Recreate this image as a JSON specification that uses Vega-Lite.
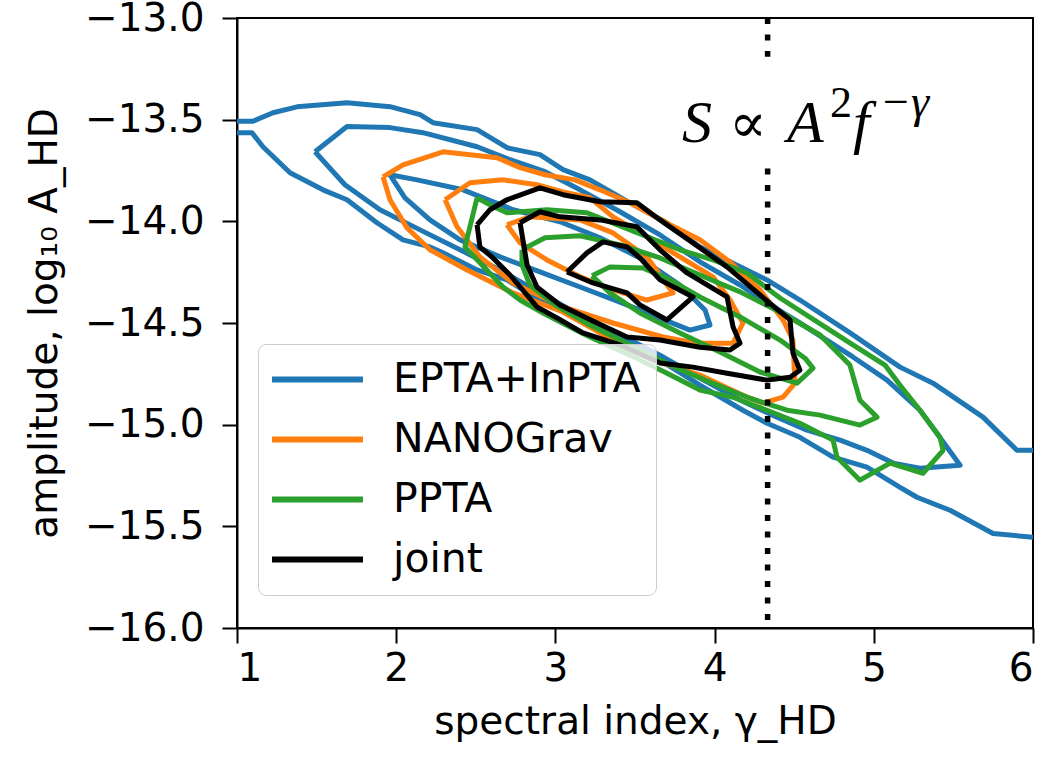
{
  "$schema": "https://vega.github.io/schema/vega-lite/v6.json",
  "width": 796,
  "height": 610,
  "autosize": {"type": "none"},
  "padding": {"left": 237, "top": 18, "right": 16, "bottom": 135},
  "background": "white",
  "config": {
    "view": {"stroke": "black", "strokeWidth": 2},
    "axis": {"grid": false, "domainColor": "black", "domainWidth": 2, "tickColor": "black", "tickWidth": 2, "tickSize": 15, "labelFont": "DejaVu Sans", "labelFontSize": 39, "labelColor": "black", "titleFont": "DejaVu Sans", "titleFontSize": 39, "titleFontWeight": "normal", "titleColor": "black"}
  },
  "encoding": {
    "x": {"field": "gamma", "type": "quantitative", "scale": {"domain": [1, 6], "nice": false, "zero": false}, "axis": {"values": [1, 2, 3, 4, 5, 6], "format": "d", "title": "spectral index, γ_HD", "labelPadding": 6, "titlePadding": 14}},
    "y": {"field": "logA", "type": "quantitative", "scale": {"domain": [-16, -13], "nice": false, "zero": false}, "axis": {"values": [-16, -15.5, -15, -14.5, -14, -13.5, -13], "format": ".1f", "title": "amplitude, log₁₀ A_HD", "labelPadding": 18, "titlePadding": 20}}
  },
  "layer": [
    {
      "data": {"values": [
        {"set":"EPTA+InPTA","id":"B1u","gamma":1.0,"logA":-13.508},{"set":"EPTA+InPTA","id":"B1u","gamma":1.10,"logA":-13.508},{"set":"EPTA+InPTA","id":"B1u","gamma":1.226,"logA":-13.466},{"set":"EPTA+InPTA","id":"B1u","gamma":1.377,"logA":-13.437},{"set":"EPTA+InPTA","id":"B1u","gamma":1.691,"logA":-13.417},{"set":"EPTA+InPTA","id":"B1u","gamma":1.961,"logA":-13.436},{"set":"EPTA+InPTA","id":"B1u","gamma":2.150,"logA":-13.475},{"set":"EPTA+InPTA","id":"B1u","gamma":2.231,"logA":-13.515},{"set":"EPTA+InPTA","id":"B1u","gamma":2.508,"logA":-13.549},{"set":"EPTA+InPTA","id":"B1u","gamma":2.696,"logA":-13.638},{"set":"EPTA+InPTA","id":"B1u","gamma":2.903,"logA":-13.672},{"set":"EPTA+InPTA","id":"B1u","gamma":3.048,"logA":-13.746},{"set":"EPTA+InPTA","id":"B1u","gamma":3.217,"logA":-13.796},{"set":"EPTA+InPTA","id":"B1u","gamma":3.469,"logA":-13.909},{"set":"EPTA+InPTA","id":"B1u","gamma":3.688,"logA":-14.002},{"set":"EPTA+InPTA","id":"B1u","gamma":3.908,"logA":-14.126},{"set":"EPTA+InPTA","id":"B1u","gamma":4.329,"logA":-14.288},{"set":"EPTA+InPTA","id":"B1u","gamma":4.536,"logA":-14.387},{"set":"EPTA+InPTA","id":"B1u","gamma":4.851,"logA":-14.549},{"set":"EPTA+InPTA","id":"B1u","gamma":5.165,"logA":-14.717},{"set":"EPTA+InPTA","id":"B1u","gamma":5.372,"logA":-14.796},{"set":"EPTA+InPTA","id":"B1u","gamma":5.686,"logA":-14.963},{"set":"EPTA+InPTA","id":"B1u","gamma":5.899,"logA":-15.126},{"set":"EPTA+InPTA","id":"B1u","gamma":6.0,"logA":-15.126},
        {"set":"EPTA+InPTA","id":"B1l","gamma":1.0,"logA":-13.564},{"set":"EPTA+InPTA","id":"B1l","gamma":1.094,"logA":-13.564},{"set":"EPTA+InPTA","id":"B1l","gamma":1.163,"logA":-13.633},{"set":"EPTA+InPTA","id":"B1l","gamma":1.333,"logA":-13.761},{"set":"EPTA+InPTA","id":"B1l","gamma":1.540,"logA":-13.845},{"set":"EPTA+InPTA","id":"B1l","gamma":1.691,"logA":-13.894},{"set":"EPTA+InPTA","id":"B1l","gamma":1.879,"logA":-14.007},{"set":"EPTA+InPTA","id":"B1l","gamma":2.043,"logA":-14.091},{"set":"EPTA+InPTA","id":"B1l","gamma":2.212,"logA":-14.126},{"set":"EPTA+InPTA","id":"B1l","gamma":2.294,"logA":-14.155},{"set":"EPTA+InPTA","id":"B1l","gamma":2.508,"logA":-14.239},{"set":"EPTA+InPTA","id":"B1l","gamma":2.696,"logA":-14.288},{"set":"EPTA+InPTA","id":"B1l","gamma":2.903,"logA":-14.387},{"set":"EPTA+InPTA","id":"B1l","gamma":3.155,"logA":-14.485},{"set":"EPTA+InPTA","id":"B1l","gamma":3.406,"logA":-14.584},{"set":"EPTA+InPTA","id":"B1l","gamma":3.657,"logA":-14.683},{"set":"EPTA+InPTA","id":"B1l","gamma":3.908,"logA":-14.806},{"set":"EPTA+InPTA","id":"B1l","gamma":4.178,"logA":-14.929},{"set":"EPTA+InPTA","id":"B1l","gamma":4.329,"logA":-14.993},{"set":"EPTA+InPTA","id":"B1l","gamma":4.536,"logA":-15.062},{"set":"EPTA+InPTA","id":"B1l","gamma":4.744,"logA":-15.160},{"set":"EPTA+InPTA","id":"B1l","gamma":4.957,"logA":-15.209},{"set":"EPTA+InPTA","id":"B1l","gamma":5.165,"logA":-15.308},{"set":"EPTA+InPTA","id":"B1l","gamma":5.271,"logA":-15.357},{"set":"EPTA+InPTA","id":"B1l","gamma":5.479,"logA":-15.421},{"set":"EPTA+InPTA","id":"B1l","gamma":5.749,"logA":-15.535},{"set":"EPTA+InPTA","id":"B1l","gamma":6.0,"logA":-15.554},
        {"set":"EPTA+InPTA","id":"B2","gamma":1.490,"logA":-13.658},{"set":"EPTA+InPTA","id":"B2","gamma":1.691,"logA":-13.534},{"set":"EPTA+InPTA","id":"B2","gamma":1.961,"logA":-13.539},{"set":"EPTA+InPTA","id":"B2","gamma":2.168,"logA":-13.564},{"set":"EPTA+InPTA","id":"B2","gamma":2.508,"logA":-13.633},{"set":"EPTA+InPTA","id":"B2","gamma":2.715,"logA":-13.697},{"set":"EPTA+InPTA","id":"B2","gamma":2.935,"logA":-13.756},{"set":"EPTA+InPTA","id":"B2","gamma":3.155,"logA":-13.845},{"set":"EPTA+InPTA","id":"B2","gamma":3.406,"logA":-13.953},{"set":"EPTA+InPTA","id":"B2","gamma":3.657,"logA":-14.067},{"set":"EPTA+InPTA","id":"B2","gamma":3.908,"logA":-14.199},{"set":"EPTA+InPTA","id":"B2","gamma":4.160,"logA":-14.313},{"set":"EPTA+InPTA","id":"B2","gamma":4.329,"logA":-14.401},{"set":"EPTA+InPTA","id":"B2","gamma":4.536,"logA":-14.500},{"set":"EPTA+InPTA","id":"B2","gamma":4.869,"logA":-14.667},{"set":"EPTA+InPTA","id":"B2","gamma":5.083,"logA":-14.781},{"set":"EPTA+InPTA","id":"B2","gamma":5.290,"logA":-14.929},{"set":"EPTA+InPTA","id":"B2","gamma":5.460,"logA":-15.111},{"set":"EPTA+InPTA","id":"B2","gamma":5.542,"logA":-15.200},{"set":"EPTA+InPTA","id":"B2","gamma":5.290,"logA":-15.214},{"set":"EPTA+InPTA","id":"B2","gamma":5.121,"logA":-15.189},{"set":"EPTA+InPTA","id":"B2","gamma":4.957,"logA":-15.126},{"set":"EPTA+InPTA","id":"B2","gamma":4.788,"logA":-15.076},{"set":"EPTA+InPTA","id":"B2","gamma":4.580,"logA":-15.027},{"set":"EPTA+InPTA","id":"B2","gamma":4.392,"logA":-14.963},{"set":"EPTA+InPTA","id":"B2","gamma":4.160,"logA":-14.879},{"set":"EPTA+InPTA","id":"B2","gamma":3.908,"logA":-14.771},{"set":"EPTA+InPTA","id":"B2","gamma":3.657,"logA":-14.658},{"set":"EPTA+InPTA","id":"B2","gamma":3.406,"logA":-14.559},{"set":"EPTA+InPTA","id":"B2","gamma":3.155,"logA":-14.461},{"set":"EPTA+InPTA","id":"B2","gamma":2.903,"logA":-14.352},{"set":"EPTA+InPTA","id":"B2","gamma":2.652,"logA":-14.239},{"set":"EPTA+InPTA","id":"B2","gamma":2.401,"logA":-14.140},{"set":"EPTA+InPTA","id":"B2","gamma":2.150,"logA":-14.042},{"set":"EPTA+InPTA","id":"B2","gamma":1.898,"logA":-13.943},{"set":"EPTA+InPTA","id":"B2","gamma":1.678,"logA":-13.820},{"set":"EPTA+InPTA","id":"B2","gamma":1.490,"logA":-13.658},
        {"set":"EPTA+InPTA","id":"B3","gamma":1.961,"logA":-13.771},{"set":"EPTA+InPTA","id":"B3","gamma":2.131,"logA":-13.796},{"set":"EPTA+InPTA","id":"B3","gamma":2.420,"logA":-13.845},{"set":"EPTA+InPTA","id":"B3","gamma":2.734,"logA":-13.943},{"set":"EPTA+InPTA","id":"B3","gamma":3.029,"logA":-14.002},{"set":"EPTA+InPTA","id":"B3","gamma":3.280,"logA":-14.081},{"set":"EPTA+InPTA","id":"B3","gamma":3.531,"logA":-14.180},{"set":"EPTA+InPTA","id":"B3","gamma":3.782,"logA":-14.313},{"set":"EPTA+InPTA","id":"B3","gamma":3.940,"logA":-14.436},{"set":"EPTA+InPTA","id":"B3","gamma":3.971,"logA":-14.510},{"set":"EPTA+InPTA","id":"B3","gamma":3.845,"logA":-14.535},{"set":"EPTA+InPTA","id":"B3","gamma":3.657,"logA":-14.476},{"set":"EPTA+InPTA","id":"B3","gamma":3.406,"logA":-14.397},{"set":"EPTA+InPTA","id":"B3","gamma":3.155,"logA":-14.323},{"set":"EPTA+InPTA","id":"B3","gamma":2.903,"logA":-14.249},{"set":"EPTA+InPTA","id":"B3","gamma":2.652,"logA":-14.175},{"set":"EPTA+InPTA","id":"B3","gamma":2.401,"logA":-14.091},{"set":"EPTA+InPTA","id":"B3","gamma":2.212,"logA":-13.993},{"set":"EPTA+InPTA","id":"B3","gamma":2.055,"logA":-13.885},{"set":"EPTA+InPTA","id":"B3","gamma":1.961,"logA":-13.771},
        {"set":"NANOGrav","id":"O1","gamma":1.917,"logA":-13.781},{"set":"NANOGrav","id":"O1","gamma":2.043,"logA":-13.722},{"set":"NANOGrav","id":"O1","gamma":2.294,"logA":-13.658},{"set":"NANOGrav","id":"O1","gamma":2.633,"logA":-13.687},{"set":"NANOGrav","id":"O1","gamma":2.778,"logA":-13.736},{"set":"NANOGrav","id":"O1","gamma":2.935,"logA":-13.771},{"set":"NANOGrav","id":"O1","gamma":3.123,"logA":-13.796},{"set":"NANOGrav","id":"O1","gamma":3.280,"logA":-13.845},{"set":"NANOGrav","id":"O1","gamma":3.469,"logA":-13.909},{"set":"NANOGrav","id":"O1","gamma":3.720,"logA":-14.017},{"set":"NANOGrav","id":"O1","gamma":3.908,"logA":-14.091},{"set":"NANOGrav","id":"O1","gamma":4.097,"logA":-14.200},{"set":"NANOGrav","id":"O1","gamma":4.285,"logA":-14.337},{"set":"NANOGrav","id":"O1","gamma":4.430,"logA":-14.485},{"set":"NANOGrav","id":"O1","gamma":4.492,"logA":-14.584},{"set":"NANOGrav","id":"O1","gamma":4.505,"logA":-14.796},{"set":"NANOGrav","id":"O1","gamma":4.430,"logA":-14.865},{"set":"NANOGrav","id":"O1","gamma":4.304,"logA":-14.894},{"set":"NANOGrav","id":"O1","gamma":4.204,"logA":-14.865},{"set":"NANOGrav","id":"O1","gamma":3.908,"logA":-14.756},{"set":"NANOGrav","id":"O1","gamma":3.676,"logA":-14.697},{"set":"NANOGrav","id":"O1","gamma":3.362,"logA":-14.584},{"set":"NANOGrav","id":"O1","gamma":3.048,"logA":-14.446},{"set":"NANOGrav","id":"O1","gamma":2.734,"logA":-14.352},{"set":"NANOGrav","id":"O1","gamma":2.445,"logA":-14.239},{"set":"NANOGrav","id":"O1","gamma":2.212,"logA":-14.140},{"set":"NANOGrav","id":"O1","gamma":2.068,"logA":-14.032},{"set":"NANOGrav","id":"O1","gamma":1.961,"logA":-13.894},{"set":"NANOGrav","id":"O1","gamma":1.917,"logA":-13.781},
        {"set":"NANOGrav","id":"O2","gamma":2.307,"logA":-13.894},{"set":"NANOGrav","id":"O2","gamma":2.464,"logA":-13.810},{"set":"NANOGrav","id":"O2","gamma":2.671,"logA":-13.796},{"set":"NANOGrav","id":"O2","gamma":2.884,"logA":-13.820},{"set":"NANOGrav","id":"O2","gamma":3.048,"logA":-13.855},{"set":"NANOGrav","id":"O2","gamma":3.217,"logA":-13.884},{"set":"NANOGrav","id":"O2","gamma":3.362,"logA":-13.978},{"set":"NANOGrav","id":"O2","gamma":3.575,"logA":-14.076},{"set":"NANOGrav","id":"O2","gamma":3.782,"logA":-14.175},{"set":"NANOGrav","id":"O2","gamma":3.990,"logA":-14.273},{"set":"NANOGrav","id":"O2","gamma":4.097,"logA":-14.387},{"set":"NANOGrav","id":"O2","gamma":4.178,"logA":-14.500},{"set":"NANOGrav","id":"O2","gamma":4.116,"logA":-14.599},{"set":"NANOGrav","id":"O2","gamma":3.889,"logA":-14.599},{"set":"NANOGrav","id":"O2","gamma":3.676,"logA":-14.569},{"set":"NANOGrav","id":"O2","gamma":3.362,"logA":-14.500},{"set":"NANOGrav","id":"O2","gamma":3.048,"logA":-14.421},{"set":"NANOGrav","id":"O2","gamma":2.734,"logA":-14.303},{"set":"NANOGrav","id":"O2","gamma":2.526,"logA":-14.175},{"set":"NANOGrav","id":"O2","gamma":2.382,"logA":-14.027},{"set":"NANOGrav","id":"O2","gamma":2.307,"logA":-13.894},
        {"set":"NANOGrav","id":"O3","gamma":2.696,"logA":-14.017},{"set":"NANOGrav","id":"O3","gamma":2.840,"logA":-13.978},{"set":"NANOGrav","id":"O3","gamma":3.155,"logA":-13.993},{"set":"NANOGrav","id":"O3","gamma":3.362,"logA":-14.057},{"set":"NANOGrav","id":"O3","gamma":3.575,"logA":-14.175},{"set":"NANOGrav","id":"O3","gamma":3.739,"logA":-14.352},{"set":"NANOGrav","id":"O3","gamma":3.575,"logA":-14.387},{"set":"NANOGrav","id":"O3","gamma":3.362,"logA":-14.337},{"set":"NANOGrav","id":"O3","gamma":3.155,"logA":-14.273},{"set":"NANOGrav","id":"O3","gamma":2.947,"logA":-14.190},{"set":"NANOGrav","id":"O3","gamma":2.778,"logA":-14.106},{"set":"NANOGrav","id":"O3","gamma":2.696,"logA":-14.017},
        {"set":"PPTA","id":"G1","gamma":2.508,"logA":-13.884},{"set":"PPTA","id":"G1","gamma":2.589,"logA":-13.919},{"set":"PPTA","id":"G1","gamma":2.696,"logA":-13.958},{"set":"PPTA","id":"G1","gamma":2.947,"logA":-13.943},{"set":"PPTA","id":"G1","gamma":3.198,"logA":-13.958},{"set":"PPTA","id":"G1","gamma":3.469,"logA":-14.042},{"set":"PPTA","id":"G1","gamma":3.782,"logA":-14.140},{"set":"PPTA","id":"G1","gamma":3.990,"logA":-14.190},{"set":"PPTA","id":"G1","gamma":4.204,"logA":-14.254},{"set":"PPTA","id":"G1","gamma":4.411,"logA":-14.377},{"set":"PPTA","id":"G1","gamma":4.725,"logA":-14.535},{"set":"PPTA","id":"G1","gamma":4.869,"logA":-14.608},{"set":"PPTA","id":"G1","gamma":5.070,"logA":-14.707},{"set":"PPTA","id":"G1","gamma":5.165,"logA":-14.806},{"set":"PPTA","id":"G1","gamma":5.290,"logA":-14.929},{"set":"PPTA","id":"G1","gamma":5.416,"logA":-15.062},{"set":"PPTA","id":"G1","gamma":5.435,"logA":-15.126},{"set":"PPTA","id":"G1","gamma":5.309,"logA":-15.239},{"set":"PPTA","id":"G1","gamma":5.102,"logA":-15.189},{"set":"PPTA","id":"G1","gamma":4.913,"logA":-15.273},{"set":"PPTA","id":"G1","gamma":4.769,"logA":-15.160},{"set":"PPTA","id":"G1","gamma":4.744,"logA":-15.076},{"set":"PPTA","id":"G1","gamma":4.536,"logA":-14.993},{"set":"PPTA","id":"G1","gamma":4.329,"logA":-14.929},{"set":"PPTA","id":"G1","gamma":4.116,"logA":-14.865},{"set":"PPTA","id":"G1","gamma":3.908,"logA":-14.830},{"set":"PPTA","id":"G1","gamma":3.701,"logA":-14.747},{"set":"PPTA","id":"G1","gamma":3.469,"logA":-14.658},{"set":"PPTA","id":"G1","gamma":3.217,"logA":-14.569},{"set":"PPTA","id":"G1","gamma":3.092,"logA":-14.520},{"set":"PPTA","id":"G1","gamma":2.922,"logA":-14.451},{"set":"PPTA","id":"G1","gamma":2.778,"logA":-14.387},{"set":"PPTA","id":"G1","gamma":2.671,"logA":-14.323},{"set":"PPTA","id":"G1","gamma":2.526,"logA":-14.204},{"set":"PPTA","id":"G1","gamma":2.432,"logA":-14.126},{"set":"PPTA","id":"G1","gamma":2.508,"logA":-13.884},
        {"set":"PPTA","id":"G2","gamma":2.790,"logA":-14.140},{"set":"PPTA","id":"G2","gamma":2.935,"logA":-14.081},{"set":"PPTA","id":"G2","gamma":3.155,"logA":-14.071},{"set":"PPTA","id":"G2","gamma":3.406,"logA":-14.116},{"set":"PPTA","id":"G2","gamma":3.657,"logA":-14.180},{"set":"PPTA","id":"G2","gamma":3.908,"logA":-14.264},{"set":"PPTA","id":"G2","gamma":4.160,"logA":-14.347},{"set":"PPTA","id":"G2","gamma":4.411,"logA":-14.446},{"set":"PPTA","id":"G2","gamma":4.662,"logA":-14.559},{"set":"PPTA","id":"G2","gamma":4.850,"logA":-14.707},{"set":"PPTA","id":"G2","gamma":4.913,"logA":-14.880},{"set":"PPTA","id":"G2","gamma":5.020,"logA":-14.963},{"set":"PPTA","id":"G2","gamma":4.913,"logA":-15.002},{"set":"PPTA","id":"G2","gamma":4.662,"logA":-14.953},{"set":"PPTA","id":"G2","gamma":4.455,"logA":-14.929},{"set":"PPTA","id":"G2","gamma":4.222,"logA":-14.870},{"set":"PPTA","id":"G2","gamma":3.971,"logA":-14.791},{"set":"PPTA","id":"G2","gamma":3.720,"logA":-14.707},{"set":"PPTA","id":"G2","gamma":3.469,"logA":-14.608},{"set":"PPTA","id":"G2","gamma":3.217,"logA":-14.510},{"set":"PPTA","id":"G2","gamma":2.997,"logA":-14.411},{"set":"PPTA","id":"G2","gamma":2.840,"logA":-14.313},{"set":"PPTA","id":"G2","gamma":2.790,"logA":-14.214},{"set":"PPTA","id":"G2","gamma":2.790,"logA":-14.140},
        {"set":"PPTA","id":"G3","gamma":3.230,"logA":-14.268},{"set":"PPTA","id":"G3","gamma":3.343,"logA":-14.224},{"set":"PPTA","id":"G3","gamma":3.550,"logA":-14.229},{"set":"PPTA","id":"G3","gamma":3.720,"logA":-14.288},{"set":"PPTA","id":"G3","gamma":3.908,"logA":-14.372},{"set":"PPTA","id":"G3","gamma":4.160,"logA":-14.470},{"set":"PPTA","id":"G3","gamma":4.411,"logA":-14.584},{"set":"PPTA","id":"G3","gamma":4.568,"logA":-14.673},{"set":"PPTA","id":"G3","gamma":4.618,"logA":-14.722},{"set":"PPTA","id":"G3","gamma":4.518,"logA":-14.796},{"set":"PPTA","id":"G3","gamma":4.285,"logA":-14.741},{"set":"PPTA","id":"G3","gamma":4.034,"logA":-14.643},{"set":"PPTA","id":"G3","gamma":3.782,"logA":-14.549},{"set":"PPTA","id":"G3","gamma":3.531,"logA":-14.451},{"set":"PPTA","id":"G3","gamma":3.343,"logA":-14.352},{"set":"PPTA","id":"G3","gamma":3.230,"logA":-14.268},
        {"set":"joint","id":"K1","gamma":2.508,"logA":-14.017},{"set":"joint","id":"K1","gamma":2.589,"logA":-13.943},{"set":"joint","id":"K1","gamma":2.696,"logA":-13.894},{"set":"joint","id":"K1","gamma":2.903,"logA":-13.835},{"set":"joint","id":"K1","gamma":3.048,"logA":-13.869},{"set":"joint","id":"K1","gamma":3.280,"logA":-13.904},{"set":"joint","id":"K1","gamma":3.512,"logA":-13.909},{"set":"joint","id":"K1","gamma":3.657,"logA":-13.993},{"set":"joint","id":"K1","gamma":3.864,"logA":-14.106},{"set":"joint","id":"K1","gamma":4.078,"logA":-14.224},{"set":"joint","id":"K1","gamma":4.285,"logA":-14.362},{"set":"joint","id":"K1","gamma":4.474,"logA":-14.485},{"set":"joint","id":"K1","gamma":4.492,"logA":-14.648},{"set":"joint","id":"K1","gamma":4.536,"logA":-14.732},{"set":"joint","id":"K1","gamma":4.474,"logA":-14.767},{"set":"joint","id":"K1","gamma":4.329,"logA":-14.781},{"set":"joint","id":"K1","gamma":4.078,"logA":-14.747},{"set":"joint","id":"K1","gamma":3.864,"logA":-14.717},{"set":"joint","id":"K1","gamma":3.657,"logA":-14.697},{"set":"joint","id":"K1","gamma":3.406,"logA":-14.608},{"set":"joint","id":"K1","gamma":3.173,"logA":-14.549},{"set":"joint","id":"K1","gamma":3.010,"logA":-14.475},{"set":"joint","id":"K1","gamma":2.884,"logA":-14.421},{"set":"joint","id":"K1","gamma":2.715,"logA":-14.264},{"set":"joint","id":"K1","gamma":2.608,"logA":-14.180},{"set":"joint","id":"K1","gamma":2.526,"logA":-14.126},{"set":"joint","id":"K1","gamma":2.508,"logA":-14.017},
        {"set":"joint","id":"K2","gamma":2.778,"logA":-14.007},{"set":"joint","id":"K2","gamma":2.903,"logA":-13.953},{"set":"joint","id":"K2","gamma":3.029,"logA":-13.978},{"set":"joint","id":"K2","gamma":3.280,"logA":-13.993},{"set":"joint","id":"K2","gamma":3.512,"logA":-14.027},{"set":"joint","id":"K2","gamma":3.657,"logA":-14.140},{"set":"joint","id":"K2","gamma":3.827,"logA":-14.254},{"set":"joint","id":"K2","gamma":4.078,"logA":-14.372},{"set":"joint","id":"K2","gamma":4.116,"logA":-14.520},{"set":"joint","id":"K2","gamma":4.160,"logA":-14.599},{"set":"joint","id":"K2","gamma":4.097,"logA":-14.633},{"set":"joint","id":"K2","gamma":3.908,"logA":-14.619},{"set":"joint","id":"K2","gamma":3.657,"logA":-14.584},{"set":"joint","id":"K2","gamma":3.450,"logA":-14.569},{"set":"joint","id":"K2","gamma":3.249,"logA":-14.495},{"set":"joint","id":"K2","gamma":3.029,"logA":-14.411},{"set":"joint","id":"K2","gamma":2.884,"logA":-14.323},{"set":"joint","id":"K2","gamma":2.822,"logA":-14.214},{"set":"joint","id":"K2","gamma":2.778,"logA":-14.007},
        {"set":"joint","id":"K3","gamma":3.073,"logA":-14.249},{"set":"joint","id":"K3","gamma":3.198,"logA":-14.155},{"set":"joint","id":"K3","gamma":3.299,"logA":-14.101},{"set":"joint","id":"K3","gamma":3.450,"logA":-14.126},{"set":"joint","id":"K3","gamma":3.531,"logA":-14.180},{"set":"joint","id":"K3","gamma":3.657,"logA":-14.288},{"set":"joint","id":"K3","gamma":3.864,"logA":-14.372},{"set":"joint","id":"K3","gamma":3.701,"logA":-14.485},{"set":"joint","id":"K3","gamma":3.531,"logA":-14.411},{"set":"joint","id":"K3","gamma":3.450,"logA":-14.352},{"set":"joint","id":"K3","gamma":3.236,"logA":-14.303},{"set":"joint","id":"K3","gamma":3.073,"logA":-14.249}
      ]},
      "mark": {"type": "line", "strokeWidth": 5, "strokeJoin": "round", "clip": true},
      "encoding": {
        "color": {"field": "set", "type": "nominal",
          "scale": {"domain": ["EPTA+InPTA", "NANOGrav", "PPTA", "joint"], "range": ["#1f77b4", "#ff7f0e", "#2ca02c", "#000000"]},
          "legend": {"title": null, "orient": "none", "legendX": 21, "legendY": 326, "symbolType": "M-3,0H3", "symbolSize": 920, "symbolStrokeWidth": 6, "symbolOffset": 24, "labelFontSize": 41, "labelFont": "DejaVu Sans", "labelColor": "black", "labelOffset": 55, "rowPadding": 18, "padding": 15, "fillColor": "rgba(255,255,255,0.8)", "strokeColor": "#cccccc", "cornerRadius": 8, "labelLimit": 0}},
        "detail": {"field": "id"},
        "order": {"value": null}
      }
    },
    {
      "data": {"values": [{"gamma": 4.333, "logA": -13.0, "logA2": -13.19}, {"gamma": 4.333, "logA": -13.74, "logA2": -16.0}]},
      "mark": {"type": "rule", "strokeWidth": 5.5, "strokeDash": [6, 10.5], "color": "black", "strokeCap": "butt"},
      "encoding": {"y2": {"field": "logA2"}}
    },
    {
      "data": {"values": [{"gamma": 3.795, "logA": -13.608, "label": "S"}, {"gamma": 4.455, "logA": -13.608, "label": "A"}, {"gamma": 4.87, "logA": -13.608, "label": "f"}]},
      "mark": {"type": "text", "font": "Liberation Serif", "fontStyle": "italic", "fontSize": 60, "align": "left", "baseline": "alphabetic", "color": "black"},
      "encoding": {"text": {"field": "label"}}
    },
    {
      "data": {"values": [{"gamma": 4.09, "logA": -13.608, "label": "∝"}]},
      "mark": {"type": "text", "font": "DejaVu Serif", "fontSize": 56, "align": "left", "baseline": "alphabetic", "color": "black"},
      "encoding": {"text": {"field": "label"}}
    },
    {
      "data": {"values": [{"gamma": 4.725, "logA": -13.485, "label": "2"}]},
      "mark": {"type": "text", "font": "Liberation Serif", "fontSize": 44, "align": "left", "baseline": "alphabetic", "color": "black"},
      "encoding": {"text": {"field": "label"}}
    },
    {
      "data": {"values": [{"gamma": 5.039, "logA": -13.485, "label": "−γ"}]},
      "mark": {"type": "text", "font": "Liberation Serif", "fontStyle": "italic", "fontSize": 46, "align": "left", "baseline": "alphabetic", "color": "black"},
      "encoding": {"text": {"field": "label"}}
    }
  ]
}
